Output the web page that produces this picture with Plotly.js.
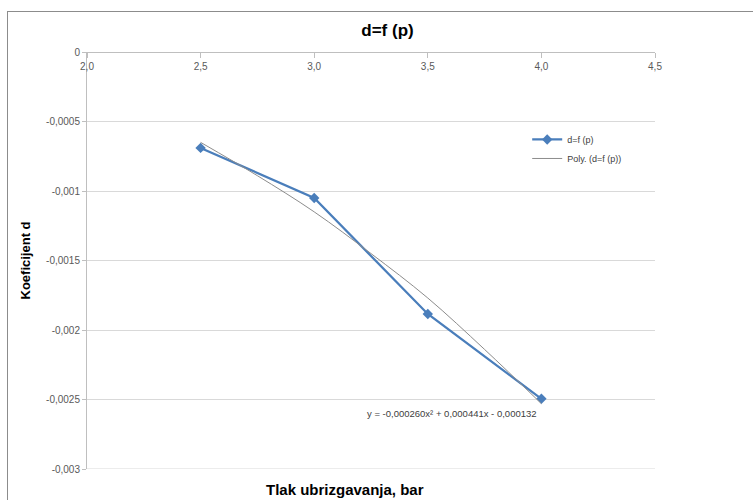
<!DOCTYPE html>
<html>
<head>
<meta charset="utf-8">
<script src="https://cdn.plot.ly/plotly-3.0.1.min.js"></script>
<style>
  html, body { margin: 0; padding: 0; background: #ffffff; }
  #frame { position: absolute; left: 7px; top: 11px; width: 800px; height: 600px; border: 1px solid #8c8c8c; box-sizing: border-box; }
  #chart { position: absolute; left: 0; top: 0; width: 753px; height: 500px; }
</style>
</head>
<body>
<div id="frame"></div>
<div id="chart"></div>
<script>
// Measured data (pressure in bar, coefficient d)
const pressure = [2.5, 3.0, 3.5, 4.0];
const coefD = [-0.00069, -0.00105, -0.001885, -0.002495];

// Polynomial trendline, values
const trendX = [2.5, 2.75, 3.0, 3.25, 3.5, 3.75, 4.0];
const trendY = [-0.00065, -0.00089, -0.00115, -0.00145, -0.00177, -0.00214, -0.00253];

// Axis ticks
const xTickVals = [2.0, 2.5, 3.0, 3.5, 4.0, 4.5];
const xTickText = ['2,0', '2,5', '3,0', '3,5', '4,0', '4,5'];
const yTickVals = [0, -0.0005, -0.001, -0.0015, -0.002, -0.0025, -0.003];
const yTickText = ['0', '-0,0005', '-0,001', '-0,0015', '-0,002', '-0,0025', '-0,003'];

const seriesName = 'd=f (p)';
const trendName = 'Poly. (d=f (p))';
const equation = 'y = -0,000260x² + 0,000441x - 0,000132';
const xTitle = 'Tlak ubrizgavanja, bar';
const yTitle = 'Koeficijent d';
const chartTitle = 'd=f (p)';

const FONT = 'Liberation Sans, Arial, sans-serif';

const traces = [
  {
    x: pressure, y: coefD, name: seriesName, type: 'scatter', mode: 'lines+markers',
    line: { color: '#4A7EBB', width: 2.25 },
    marker: { symbol: 'diamond', size: 8, color: '#4A7EBB' }
  },
  {
    x: trendX, y: trendY, name: trendName, type: 'scatter', mode: 'lines',
    line: { color: '#8c8c8c', width: 1, shape: 'spline' }
  }
];

const layout = {
  width: 753, height: 500,
  margin: { l: 87, r: 98, t: 52, b: 31 },
  paper_bgcolor: 'rgba(0,0,0,0)',
  plot_bgcolor: 'rgba(0,0,0,0)',
  font: { family: FONT, color: '#595959', size: 10 },
  title: {
    text: '<b>' + chartTitle + '</b>',
    font: { family: FONT, size: 17, color: '#000000' },
    x: 0.5146, xanchor: 'center', y: 0.94, yanchor: 'middle'
  },
  showlegend: true,
  legend: {
    x: 0.775, y: 0.825, xanchor: 'left', yanchor: 'top',
    font: { family: FONT, size: 9, color: '#404040' },
    bgcolor: 'rgba(0,0,0,0)', tracegroupgap: 0, itemwidth: 30
  },
  xaxis: {
    range: [2.0, 4.5], side: 'bottom', anchor: 'free', position: 1,
    tickvals: xTickVals, ticktext: xTickText,
    ticks: 'outside', ticklen: 5, tickcolor: '#bfbfbf',
    showline: true, linecolor: '#bfbfbf', linewidth: 1,
    showgrid: false, zeroline: false,
    tickfont: { family: FONT, size: 10, color: '#595959' }
  },
  yaxis: {
    range: [-0.003, 0],
    tickvals: yTickVals, ticktext: yTickText,
    ticks: 'outside', ticklen: 4, tickcolor: '#bfbfbf',
    showline: true, linecolor: '#bfbfbf', linewidth: 1,
    showgrid: true, gridcolor: '#d9d9d9', gridwidth: 1,
    zeroline: false,
    tickfont: { family: FONT, size: 10, color: '#595959' },
    title: { text: '<b>' + yTitle + '</b>', font: { family: FONT, size: 13, color: '#000000' }, standoff: 12 }
  },
  shapes: [
    { type: 'line', xref: 'paper', x0: 0, x1: 1, yref: 'y', y0: yTickVals[6], y1: yTickVals[6],
      line: { color: '#d9d9d9', width: 1 }, layer: 'below' }
  ],
  annotations: [
    {
      x: 3.606, y: -0.002604, xref: 'x', yref: 'y', text: equation, showarrow: false,
      font: { family: FONT, size: 9.5, color: '#404040' }, xanchor: 'center', yanchor: 'middle'
    },
    {
      x: 0.454, y: -0.05, xref: 'paper', yref: 'paper', text: '<b>' + xTitle + '</b>', showarrow: false,
      font: { family: FONT, size: 15, color: '#000000' }, xanchor: 'center', yanchor: 'middle'
    }
  ]
};

Plotly.newPlot('chart', traces, layout, { displayModeBar: false, staticPlot: true });
</script>
</body>
</html>
